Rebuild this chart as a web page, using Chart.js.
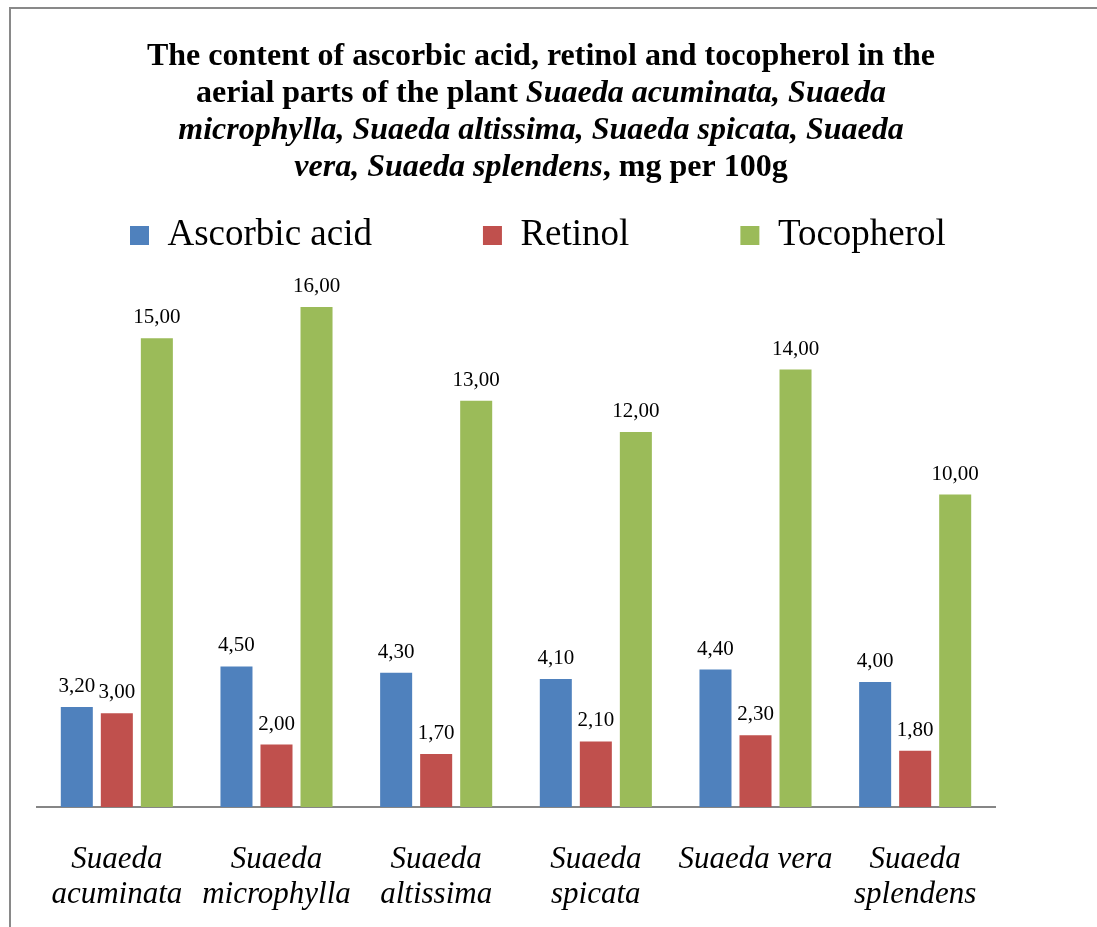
<!DOCTYPE html>
<html>
<head>
<meta charset="utf-8">
<script src="https://cdn.jsdelivr.net/npm/chart.js@4/dist/chart.umd.min.js"></script>
<style>
  html, body { margin: 0; padding: 0; background: #fff; overflow: hidden; }
  #wrap { position: relative; width: 1097px; height: 927px; }
  #frame { position: absolute; left: 9px; top: 7px; width: 1200px; height: 1000px;
           border-left: 2px solid #898989; border-top: 2px solid #898989; pointer-events: none; }
</style>
</head>
<body>
<div id="wrap">
  <canvas id="vitChart"></canvas>
  <div id="frame"></div>
</div>
<script>
const SERIF = '"Liberation Serif", "Times New Roman", serif';

// species (x axis), two-line labels like in the original
const species = [
    ['Suaeda', 'acuminata'],
    ['Suaeda', 'microphylla'],
    ['Suaeda', 'altissima'],
    ['Suaeda', 'spicata'],
    'Suaeda vera',
    ['Suaeda', 'splendens']
];

// mg per 100g
const ascorbicAcid = [3.2, 4.5, 4.3, 4.1, 4.4, 4.0];
const retinol      = [3.0, 2.0, 1.7, 2.1, 2.3, 1.8];
const tocopherol   = [15.0, 16.0, 13.0, 12.0, 14.0, 10.0];

const seriesNames = ['Ascorbic acid', 'Retinol', 'Tocopherol'];
const seriesColors = ['#4F81BD', '#C0504D', '#9BBB59'];

// title has italic species names mixed in, so it is drawn run by run
const titleLines = [
    [['The content of ascorbic acid, retinol and tocopherol in the', false]],
    [['aerial parts of the plant ', false], ['Suaeda acuminata, Suaeda', true]],
    [['microphylla, Suaeda altissima, Suaeda spicata, Suaeda', true]],
    [['vera, Suaeda splendens', true], [', mg per 100g', false]]
];

const mixedTitle = {
    id: 'mixedTitle',
    afterDraw(chart) {
        const ctx = chart.ctx;
        const cx = 541;
        ctx.save();
        ctx.fillStyle = '#000';
        ctx.textBaseline = 'alphabetic';
        ctx.textAlign = 'left';
        titleLines.forEach(function(runs, i) {
            const y = 65 + i * 37;
            let total = 0;
            runs.forEach(function(r) {
                ctx.font = (r[1] ? 'italic ' : '') + 'bold 32px ' + SERIF;
                total += ctx.measureText(r[0]).width;
            });
            let x = cx - total / 2;
            runs.forEach(function(r) {
                ctx.font = (r[1] ? 'italic ' : '') + 'bold 32px ' + SERIF;
                ctx.fillText(r[0], x, y);
                x += ctx.measureText(r[0]).width;
            });
        });
        ctx.restore();
    }
};

// value labels above the bars, decimal comma
const barValues = {
    id: 'barValues',
    afterDatasetsDraw(chart) {
        const ctx = chart.ctx;
        ctx.save();
        ctx.font = '21px ' + SERIF;
        ctx.fillStyle = '#000';
        ctx.textAlign = 'center';
        ctx.textBaseline = 'alphabetic';
        chart.data.datasets.forEach(function(ds, di) {
            chart.getDatasetMeta(di).data.forEach(function(bar, i) {
                const txt = ds.data[i].toFixed(2).replace('.', ',');
                ctx.fillText(txt, bar.x, bar.y - 15);
            });
        });
        ctx.restore();
    }
};

const dataSeries = [ascorbicAcid, retinol, tocopherol];

new Chart(document.getElementById('vitChart'), {
    type: 'bar',
    data: {
        labels: species,
        datasets: dataSeries.map(function(vals, k) {
            return {
                label: seriesNames[k],
                data: vals,
                backgroundColor: seriesColors[k],
                borderWidth: 0,
                categoryPercentage: 0.752,
                barPercentage: 0.8
            };
        })
    },
    options: {
        responsive: true,
        maintainAspectRatio: false,
        animation: false,
        devicePixelRatio: 1,
        layout: {
            padding: { top: 106, left: 19, right: 30, bottom: 0 }
        },
        plugins: {
            title: { display: false },
            tooltip: { enabled: false },
            legend: {
                position: 'top',
                align: 'start',
                labels: {
                    color: '#000',
                    font: { family: SERIF, size: 37 },
                    boxWidth: 19,
                    boxHeight: 19,
                    padding: 111
                }
            }
        },
        scales: {
            x: {
                grid: { display: false, drawTicks: false },
                border: { display: true, color: '#868686', width: 2 },
                ticks: {
                    color: '#000',
                    padding: 35,
                    maxRotation: 0,
                    autoSkip: false,
                    font: { family: SERIF, size: 31, style: 'italic', lineHeight: '35px' }
                },
                afterFit: function(scale) { scale.height = 120; }
            },
            y: {
                min: 0,
                max: 17.38,
                grid: { display: false, drawTicks: false },
                border: { display: false },
                ticks: { display: false },
                afterFit: function(scale) { scale.width = 18; }
            },
            // empty space on the right of the plot, as in the original
            yRight: {
                type: 'linear',
                position: 'right',
                grid: { display: false, drawTicks: false },
                border: { display: false },
                ticks: { display: false },
                afterFit: function(scale) { scale.width = 72; }
            }
        }
    },
    plugins: [mixedTitle, barValues]
});
</script>
</body>
</html>
